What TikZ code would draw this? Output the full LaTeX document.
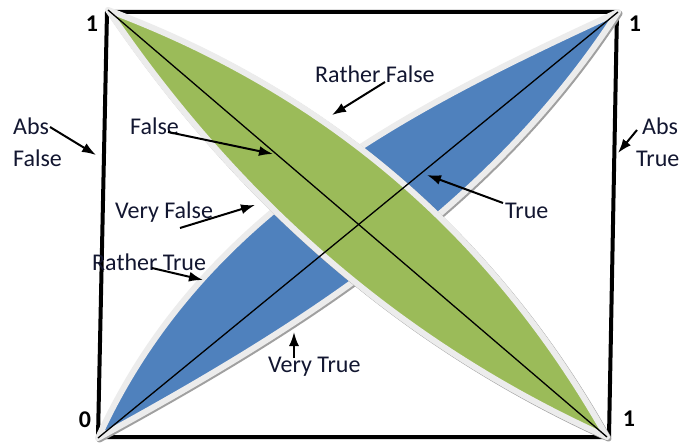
\documentclass[tikz,border=0pt]{standalone}
\usepackage{fontspec}
\setmainfont{Carlito}
\usetikzlibrary{calc,arrows.meta}
\definecolor{lensgreen}{RGB}{155,187,89}
\definecolor{lensblue}{RGB}{79,129,189}
\definecolor{rimgray}{RGB}{236,236,236}
\definecolor{shadowgray}{RGB}{160,160,160}
\definecolor{txt}{RGB}{18,22,48}
\begin{document}
\begin{tikzpicture}[x=1pt,y=-1pt,
  lbl/.style={font=\fontsize{24}{28}\selectfont, text=txt, anchor=base west, inner sep=0pt},
  num/.style={font=\fontsize{24}{28}\selectfont\bfseries, text=black, anchor=base, inner sep=0pt},
  pointer/.style={-{Latex[length=14pt,width=10pt]}, line width=2pt, black},
  frame/.style={line width=4pt, line join=miter, black},
  rim/.style={draw=rimgray, line width=6pt, line join=round},
  shade/.style={draw=shadowgray, line width=6pt, line join=round},
  diag/.style={line width=1.3pt, black},
  bluelens/.style={insert path={(98,438) .. controls (201.6,210.9) and (407.9,109.1) .. (618,12)
      .. controls (490.3,209.7) and (297.9,328.5) .. (98,438) -- cycle}},
  greenlens/.style={insert path={(108,10) .. controls (326.3,91.5) and (492.7,233.9) .. (607,437)
      .. controls (399.1,343.3) and (235.3,197.9) .. (108,10) -- cycle}}]
\useasboundingbox (0,0) rectangle (681,444);
\fill[white] (0,0) rectangle (681,444);
% frame
\coordinate (S1) at (107,12);
\coordinate (S2) at (617,12);
\coordinate (S3) at (609,437);
\coordinate (S4) at (98,437);
\draw[frame] (S1) -- (S2) -- (S3) -- (S4) -- cycle;
% blue lens
\draw[shade, shift={(1.5,1.5)}] [bluelens];
\filldraw[fill=lensblue, rim] [bluelens];
% green lens
\draw[shade, shift={(1.5,1.5)}] [greenlens];
\filldraw[fill=lensgreen, rim] [greenlens];
% diagonals
\coordinate (G1) at (108,10);
\coordinate (G2) at (607,437);
\coordinate (B1) at (98,438);
\coordinate (B2) at (618,12);
\draw[diag] (G1) -- (G2);
\draw[diag] (B1) -- (B2);
% corner numbers
\node[num] (n1) at (92,32) {1};
\node[num] (n2) at (635,32) {1};
\node[num] (n3) at (85,427) {0};
\node[num] (n4) at (629,426) {1};
% labels
\node[lbl] (absL) at (13,135) {Abs};
\node[lbl] (falseL) at (13,166) {False};
\node[lbl] (absR) at (642,135) {Abs};
\node[lbl] (trueR) at (636,167) {True};
\node[lbl] (fmid) at (130,135) {False};
\node[lbl] (rf) at (315,83) {Rather False};
\node[lbl] (tr) at (505,218) {True};
\node[lbl] (vf) at (115,218) {Very False};
\node[lbl] (rt) at (92,270) {Rather True};
\node[lbl] (vt) at (268,372) {Very True};
% arrow ends
\coordinate (a1s) at (50,127);  \coordinate (a1e) at (96,155);
\coordinate (a2s) at (637,130); \coordinate (a2e) at (618,153);
\coordinate (a3s) at (168,132); \coordinate (a3e) at (273,154);
\coordinate (a4s) at (385,82);  \coordinate (a4e) at (332,115);
\coordinate (a5s) at (503,203); \coordinate (a5e) at (427,175);
\coordinate (a6s) at (180,228); \coordinate (a6e) at (255,205);
\coordinate (a7s) at (152,268); \coordinate (a7e) at (203,280);
\coordinate (a8s) at (294,358); \coordinate (a8e) at (294,332);
\draw[pointer] (a1s) -- (a1e);
\draw[pointer] (a2s) -- (a2e);
\draw[pointer] (a3s) -- (a3e);
\draw[pointer] (a4s) -- (a4e);
\draw[pointer] (a5s) -- (a5e);
\draw[pointer] (a6s) -- (a6e);
\draw[pointer] (a7s) -- (a7e);
\draw[pointer] (a8s) -- (a8e);
\end{tikzpicture}
\end{document}
